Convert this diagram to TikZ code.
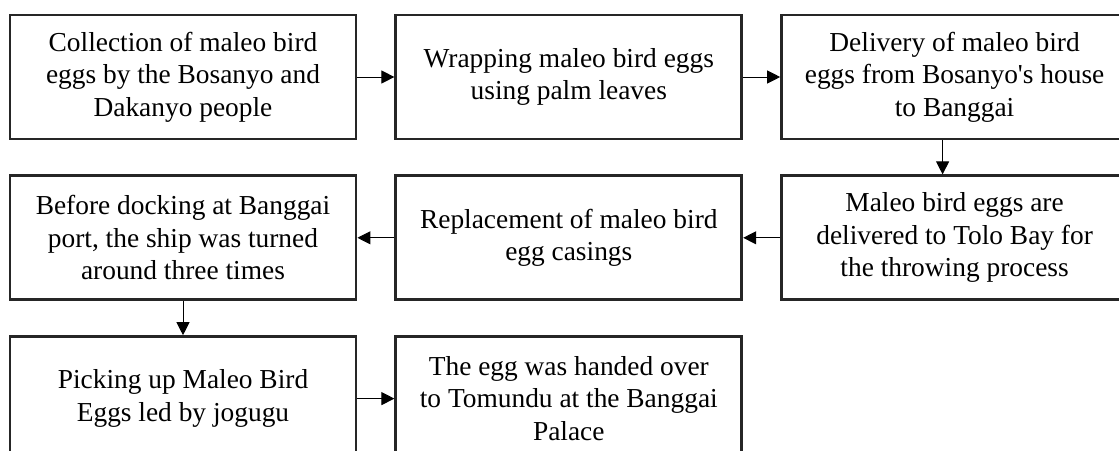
\documentclass[tikz,border=0pt]{standalone}
\usepackage{fontspec}
\setmainfont{Liberation Serif}
\usetikzlibrary{positioning,arrows.meta}
\tikzset{
  stage/.style={rectangle, draw=black!85, line width=1.4pt, fill=white,
    align=center, font=\fontsize{13.7}{16.3}\selectfont, minimum width=173pt, minimum height=62pt, inner sep=4pt},
  flow/.style={-{Triangle[length=6.5pt,width=6.5pt]}, draw=black, line width=0.5pt},
}

\begin{document}
\begin{tikzpicture}[x=0.5pt,y=-0.5pt,node distance=17pt and 18.5pt]
\useasboundingbox (0,0) rectangle (1119,450);
\clip (0,0) rectangle (1119,450);
% ---- row 1 ----
\node[stage] (collect) at (183,77) {Collection of maleo bird\\eggs by the Bosanyo and\\Dakanyo people};
\node[stage, right=of collect] (wrap) {Wrapping maleo bird eggs\\using palm leaves};
\node[stage, right=of wrap] (deliver) {Delivery of maleo bird\\eggs from Bosanyo\textquotesingle s house\\to Banggai};
\draw[flow] (collect)--(wrap); \draw[flow] (wrap)--(deliver);
% ---- row 2 ----
\node[stage, below=of deliver] (tolo) {Maleo bird eggs are\\delivered to Tolo Bay for\\the throwing process};
\node[stage, left=of tolo] (casing) {Replacement of maleo bird\\egg casings};
\node[stage, left=of casing] (dock) {Before docking at Banggai\\port, the ship was turned\\around three times};
\draw[flow] ([xshift=-6pt]deliver.south)--([xshift=-6pt]tolo.north);
\draw[flow] (tolo)--(casing); \draw[flow] (casing)--(dock);
% ---- row 3 ----
\node[stage, below=of dock] (pickup) {Picking up Maleo Bird\\Eggs led by jogugu};
\node[stage, right=of pickup] (handover) {The egg was handed over\\to Tomundu at the Banggai\\Palace};
\draw[flow] (dock)--(pickup); \draw[flow] (pickup)--(handover);
\end{tikzpicture}
\end{document}
